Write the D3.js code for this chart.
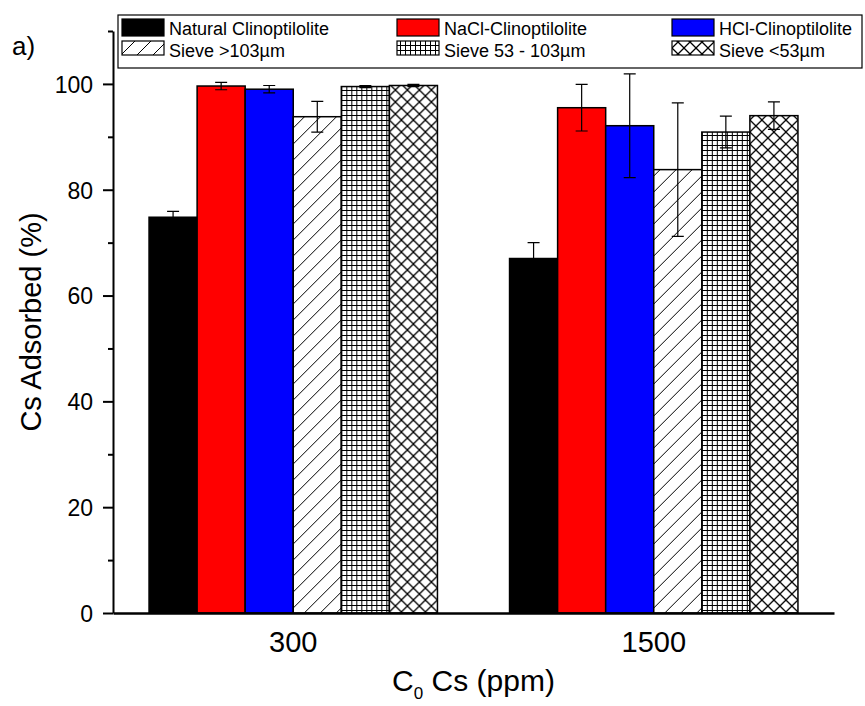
<!DOCTYPE html>
<html>
<head>
<meta charset="utf-8">
<script src="https://cdn.jsdelivr.net/npm/d3@7"></script>
<style>
  body { margin: 0; background: #fff; }
  text { font-family: "Liberation Sans", Arial, sans-serif; fill: #000; }
</style>
</head>
<body>
<svg id="chart" width="865" height="706"></svg>
<script>
// data
const categories = ['300', '1500'];
const seriesNames = ['Natural Clinoptilolite', 'NaCl-Clinoptilolite', 'HCl-Clinoptilolite',
  'Sieve >103µm', 'Sieve 53 - 103µm', 'Sieve <53µm'];
const fills = ['#000000', '#ff0000', '#0000ff', 'url(#diag)', 'url(#grid)', 'url(#cross)'];
const mean300 = [74.8, 99.6, 99.0, 93.8, 99.5, 99.7];
const err300 = [1.1, 0.7, 0.7, 2.9, 0.2, 0.2];
const mean1500 = [67.0, 95.5, 92.1, 83.8, 90.9, 94.0];
const err1500 = [3.0, 4.4, 9.8, 12.6, 3.0, 2.6];
const yMajor = [0, 20, 40, 60, 80, 100];
const yMinor = [10, 30, 50, 70, 90, 110];

const rows = [];
categories.forEach((cat, ci) => {
  const means = ci === 0 ? mean300 : mean1500;
  const errs = ci === 0 ? err300 : err1500;
  seriesNames.forEach((s, si) => {
    rows.push({ cat: cat, series: s, fill: fills[si], mean: means[si], err: errs[si] });
  });
});

const svg = d3.select('#chart');
const defs = svg.append('defs');

// hatch patterns
let p = defs.append('pattern').attr('id', 'diag').attr('patternUnits', 'userSpaceOnUse')
  .attr('width', 16).attr('height', 16);
p.append('rect').attr('width', 16).attr('height', 16).attr('fill', '#fff');
p.append('path').attr('d', 'M-4,4L4,-4M0,16L16,0M12,20L20,12')
  .attr('stroke', '#000').attr('stroke-width', 1);

p = defs.append('pattern').attr('id', 'grid').attr('patternUnits', 'userSpaceOnUse')
  .attr('width', 5).attr('height', 5);
p.append('rect').attr('width', 5).attr('height', 5).attr('fill', '#fff');
p.append('path').attr('d', 'M0.5,0V5M0,0.5H5')
  .attr('stroke', '#000').attr('stroke-width', 1);

p = defs.append('pattern').attr('id', 'cross').attr('patternUnits', 'userSpaceOnUse')
  .attr('width', 12).attr('height', 12);
p.append('rect').attr('width', 12).attr('height', 12).attr('fill', '#fff');
p.append('path').attr('d', 'M0,0L12,12M12,0L0,12')
  .attr('stroke', '#000').attr('stroke-width', 1.3);

// scales
const plotL = 113, plotR = 834, plotB = 613, plotT = 31;
const y = d3.scaleLinear().domain([0, 110]).range([plotB, plotT]);
const x0 = d3.scaleBand().domain(categories).range([plotL, plotR]).padding(0);
const bw = x0.bandwidth();
const x1 = d3.scaleBand().domain(seriesNames).range([bw * 0.1, bw * 0.9]).padding(0);

// bars
const bars = svg.append('g').selectAll('g').data(rows).join('g')
  .attr('transform', d => `translate(${x0(d.cat) + x1(d.series)},0)`);

bars.append('rect')
  .attr('x', 0)
  .attr('y', d => y(d.mean))
  .attr('width', x1.bandwidth())
  .attr('height', d => y(0) - y(d.mean))
  .attr('fill', d => d.fill)
  .attr('stroke', '#000')
  .attr('stroke-width', 1.5);

// error bars
const cx = x1.bandwidth() / 2;
const cap = 6;
bars.append('path')
  .attr('d', d => {
    const hi = y(d.mean + d.err), lo = y(d.mean - d.err);
    return `M${cx},${hi}V${lo}M${cx - cap},${hi}H${cx + cap}M${cx - cap},${lo}H${cx + cap}`;
  })
  .attr('fill', 'none')
  .attr('stroke', '#000')
  .attr('stroke-width', 1.2);

// y axis
const yAxis = svg.append('g').attr('transform', `translate(${plotL},0)`)
  .call(d3.axisLeft(y).tickValues(yMajor).tickSize(10).tickSizeOuter(0).tickPadding(10));
yAxis.selectAll('text').attr('font-size', 23).attr('font-family', null).attr('dy', '0.36em');
const yMin = svg.append('g').attr('transform', `translate(${plotL},0)`)
  .call(d3.axisLeft(y).tickValues(yMinor).tickSize(5).tickSizeOuter(0).tickFormat(''));
yMin.select('.domain').remove();
svg.selectAll('.tick line').attr('stroke-width', 2);
yAxis.select('.domain').attr('stroke-width', 2);

// x axis
const xAxis = svg.append('g').attr('transform', `translate(0,${plotB})`)
  .call(d3.axisBottom(x0).tickSize(0).tickSizeOuter(0).tickPadding(18));
xAxis.selectAll('text').attr('font-size', 29).attr('font-family', null);
xAxis.select('.domain').attr('stroke-width', 2.5);

// axis titles
svg.append('text')
  .attr('transform', `translate(41,${(plotT + plotB) / 2})rotate(-90)`)
  .attr('text-anchor', 'middle')
  .attr('font-size', 29)
  .text('Cs Adsorbed (%)');

const xt = svg.append('text')
  .attr('x', (plotL + plotR) / 2)
  .attr('y', 691)
  .attr('text-anchor', 'middle')
  .attr('font-size', 30);
xt.append('tspan').text('C');
xt.append('tspan').attr('font-size', 17).attr('dy', 8).text('0');
xt.append('tspan').attr('dy', -8).text(' Cs (ppm)');

svg.append('text').attr('x', 12).attr('y', 55).attr('font-size', 26).text('a)');

// legend
const legend = svg.append('g');
legend.append('rect')
  .attr('x', 118).attr('y', 15).attr('width', 744).attr('height', 53)
  .attr('fill', '#fff').attr('stroke', '#000').attr('stroke-width', 1.2);

const colX = [122, 397, 672];
const swatchTop = [19, 41];
const swatchH = [17, 14];
const textBase = [35, 57];

const items = legend.selectAll('g.item').data(seriesNames).join('g').attr('class', 'item');
items.append('rect')
  .attr('x', (d, i) => colX[i % 3])
  .attr('y', (d, i) => swatchTop[Math.floor(i / 3)])
  .attr('width', 42)
  .attr('height', (d, i) => swatchH[Math.floor(i / 3)])
  .attr('fill', (d, i) => fills[i])
  .attr('stroke', '#000')
  .attr('stroke-width', 1.2);
items.append('text')
  .attr('x', (d, i) => colX[i % 3] + 47)
  .attr('y', (d, i) => textBase[Math.floor(i / 3)])
  .attr('font-size', 18)
  .text(d => d);
</script>
</body>
</html>
